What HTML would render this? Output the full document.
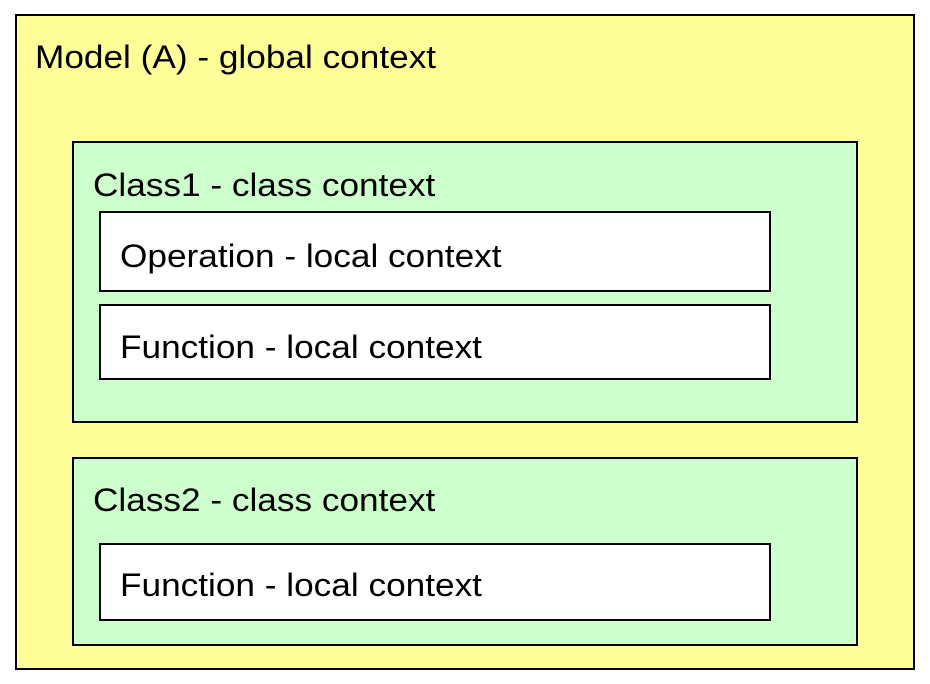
<!DOCTYPE html>
<html><head><style>
body{margin:0;width:930px;height:684px;background:#fff;position:relative;overflow:hidden;font-family:"Liberation Sans",Arial,sans-serif;}
.b{position:absolute;box-sizing:border-box;border:2px solid #000;}
.t{position:absolute;font-size:32px;line-height:32px;color:#000;white-space:nowrap;transform:scaleX(1.1);transform-origin:0 0;}
</style></head><body>
<div class="b" style="left:15px;top:14px;width:900px;height:656px;background:#ffff99"></div>
<div class="b" style="left:72px;top:141px;width:786px;height:282px;background:#ccffcc"></div>
<div class="b" style="left:99px;top:211px;width:672px;height:81px;background:#fff"></div>
<div class="b" style="left:99px;top:304px;width:672px;height:76px;background:#fff"></div>
<div class="b" style="left:72px;top:457px;width:786px;height:189px;background:#ccffcc"></div>
<div class="b" style="left:99px;top:543px;width:672px;height:78px;background:#fff"></div>
<div class="t" style="left:35px;top:41px">Model (A) - global context</div>
<div class="t" style="left:93px;top:169px">Class1 - class context</div>
<div class="t" style="left:120px;top:240px">Operation - local context</div>
<div class="t" style="left:120px;top:331px">Function - local context</div>
<div class="t" style="left:93px;top:484px">Class2 - class context</div>
<div class="t" style="left:120px;top:569px">Function - local context</div>
</body></html>
